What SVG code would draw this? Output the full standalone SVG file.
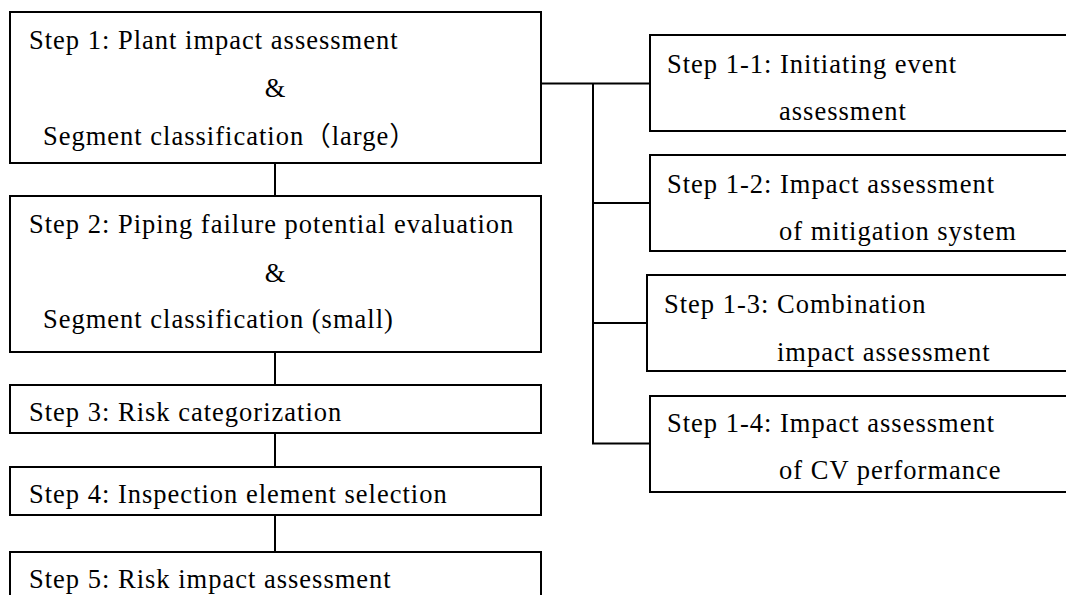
<svg xmlns="http://www.w3.org/2000/svg" width="1066" height="595" viewBox="0 0 1066 595">
<style>
.box{fill:#fff;stroke:#000;stroke-width:2}
.ln{fill:none;stroke:#000;stroke-width:2}
text{font-family:"Liberation Serif","Times New Roman",serif;font-size:26.5px;letter-spacing:1px;fill:#000}
.m{text-anchor:middle;letter-spacing:0}
.cjk{font-family:"Noto Sans CJK JP",sans-serif}
</style>
<rect width="1066" height="595" fill="#fff"/>
<g id="connectors">
<line class="ln" x1="275" y1="163" x2="275" y2="196"/>
<line class="ln" x1="275" y1="352" x2="275" y2="385"/>
<line class="ln" x1="275" y1="433" x2="275" y2="467"/>
<line class="ln" x1="275" y1="515" x2="275" y2="552"/>
<line class="ln" x1="541" y1="83.5" x2="650" y2="83.5"/>
<line class="ln" x1="593" y1="83.5" x2="593" y2="443.5"/>
<line class="ln" x1="593" y1="203" x2="650" y2="203"/>
<line class="ln" x1="593" y1="323" x2="647" y2="323"/>
<line class="ln" x1="592" y1="443.5" x2="650" y2="443.5"/>
</g>
<g id="step1">
<rect class="box" x="10" y="12" width="531" height="151"/>
<text x="29" y="49">Step 1: Plant impact assessment</text>
<text class="m" x="275" y="97">&amp;</text>
<text x="43" y="145">Segment classification<tspan class="cjk">（</tspan>large<tspan class="cjk">）</tspan></text>
</g>
<g id="step2">
<rect class="box" x="10" y="196" width="531" height="156"/>
<text x="29" y="233">Step 2: Piping failure potential evaluation</text>
<text class="m" x="275" y="282">&amp;</text>
<text x="43" y="328">Segment classification (small)</text>
</g>
<g id="step3">
<rect class="box" x="10" y="385" width="531" height="48"/>
<text x="29" y="421">Step 3: Risk categorization</text>
</g>
<g id="step4">
<rect class="box" x="10" y="467" width="531" height="48"/>
<text x="29" y="503">Step 4: Inspection element selection</text>
</g>
<g id="step5">
<rect class="box" x="10" y="552" width="531" height="60"/>
<text x="29" y="588">Step 5: Risk impact assessment</text>
</g>
<g id="step1-1">
<rect class="box" x="650" y="35" width="430" height="96"/>
<text x="667" y="73">Step 1-1: Initiating event</text>
<text x="779" y="120">assessment</text>
</g>
<g id="step1-2">
<rect class="box" x="650" y="155" width="430" height="96"/>
<text x="667" y="193">Step 1-2: Impact assessment</text>
<text x="779" y="240">of mitigation system</text>
</g>
<g id="step1-3">
<rect class="box" x="647" y="275" width="433" height="96"/>
<text x="664" y="313">Step 1-3: Combination</text>
<text x="777" y="361">impact assessment</text>
</g>
<g id="step1-4">
<rect class="box" x="650" y="396" width="430" height="96"/>
<text x="667" y="432">Step 1-4: Impact assessment</text>
<text x="779" y="479">of CV performance</text>
</g>
</svg>
